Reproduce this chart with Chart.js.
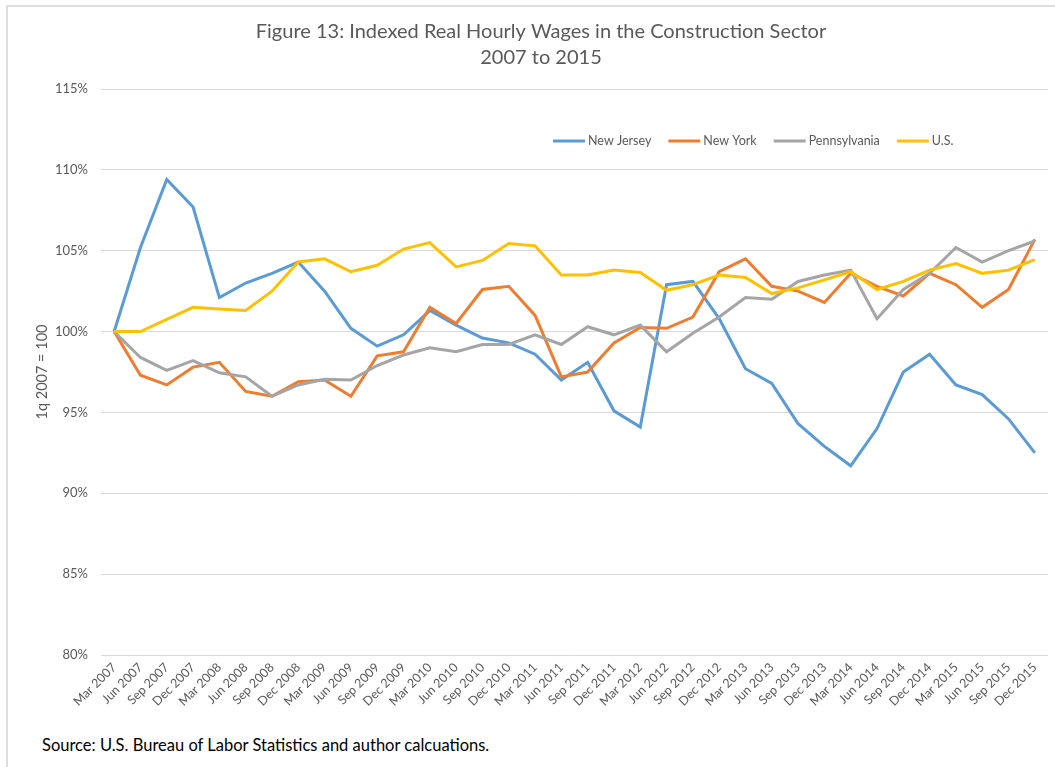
<!DOCTYPE html>
<html>
<head>
<meta charset="utf-8">
<script src="https://cdn.jsdelivr.net/npm/chart.js@4"></script>
<style>
  html, body { margin: 0; padding: 0; background: #fff; }
  #wrap { position: relative; width: 1055px; height: 767px; overflow: hidden; }
  #frame { position: absolute; left: 6px; top: 5px; right: -5px; bottom: -5px;
           border-left: 2px solid #dedede; border-top: 2px solid #dedede; }
  #box { position: absolute; left: 0; top: 0; width: 1055px; height: 730px; }
  #source { position: absolute; left: 42px; top: 735px; font: 16.5px Lato, "Open Sans", sans-serif; color: #000; }
</style>
</head>
<body>
<div id="wrap">
  <div id="frame"></div>
  <div id="box"><canvas id="myChart"></canvas></div>
  <div id="source">Source: U.S. Bureau of Labor Statistics and author calcuations.</div>
</div>
<script>
var quarters = ["Mar 2007","Jun 2007","Sep 2007","Dec 2007","Mar 2008","Jun 2008","Sep 2008","Dec 2008",
  "Mar 2009","Jun 2009","Sep 2009","Dec 2009","Mar 2010","Jun 2010","Sep 2010","Dec 2010",
  "Mar 2011","Jun 2011","Sep 2011","Dec 2011","Mar 2012","Jun 2012","Sep 2012","Dec 2012",
  "Mar 2013","Jun 2013","Sep 2013","Dec 2013","Mar 2014","Jun 2014","Sep 2014","Dec 2014",
  "Mar 2015","Jun 2015","Sep 2015","Dec 2015"];

var newJersey = [100,105.2,109.4,107.7,102.1,103.0,103.6,104.3,102.5,100.2,99.1,99.8,
  101.3,100.4,99.6,99.3,98.6,97.0,98.1,95.1,94.1,102.9,103.1,100.8,
  97.7,96.8,94.3,92.9,91.7,94.0,97.5,98.6,96.7,96.1,94.6,92.5];
var newYork = [100,97.3,96.7,97.8,98.1,96.3,96.0,96.9,97.0,96.0,98.5,98.75,
  101.5,100.5,102.6,102.8,101.0,97.2,97.5,99.3,100.25,100.2,100.9,103.7,
  104.5,102.8,102.5,101.8,103.6,102.8,102.2,103.6,102.9,101.5,102.6,105.7];
var pennsylvania = [100,98.4,97.6,98.2,97.45,97.2,96.0,96.7,97.05,97.0,97.9,98.55,
  99.0,98.75,99.2,99.2,99.8,99.2,100.3,99.8,100.4,98.75,99.9,100.9,
  102.1,102.0,103.1,103.5,103.8,100.8,102.6,103.6,105.2,104.3,105.0,105.6];
var us = [100,100.0,100.75,101.5,101.4,101.3,102.5,104.3,104.5,103.7,104.1,105.1,
  105.5,104.0,104.4,105.45,105.3,103.5,103.5,103.8,103.65,102.55,102.9,103.5,
  103.35,102.35,102.7,103.2,103.7,102.6,103.1,103.8,104.2,103.6,103.8,104.45];

var seriesNames = ["New Jersey", "New York", "Pennsylvania", "U.S."];
var seriesColors = ["#5b9bd5", "#ed7d31", "#a5a5a5", "#ffc000"];
var seriesData = [newJersey, newYork, pennsylvania, us];

var FONT = "Lato, 'Open Sans', sans-serif";
var GREY_TEXT = "#595959";

// legend drawn inside the plot area, like the Excel original
var insideLegend = {
  id: "insideLegend",
  afterDraw: function (chart) {
    var ctx = chart.ctx;
    var x = 553, y = 141;
    ctx.save();
    ctx.font = "12.5px " + FONT;
    ctx.textBaseline = "middle";
    ctx.textAlign = "left";
    chart.data.datasets.forEach(function (ds) {
      ctx.strokeStyle = ds.borderColor;
      ctx.lineWidth = 3;
      ctx.beginPath();
      ctx.moveTo(x, y);
      ctx.lineTo(x + 32, y);
      ctx.stroke();
      ctx.fillStyle = GREY_TEXT;
      ctx.fillText(ds.label, x + 35, y);
      x += 35 + ctx.measureText(ds.label).width + 17;
    });
    ctx.restore();
  }
};

new Chart("myChart", {
  type: "line",
  data: {
    labels: quarters,
    datasets: seriesNames.map(function (name, i) {
      return {
        label: name,
        data: seriesData[i],
        borderColor: seriesColors[i],
        backgroundColor: seriesColors[i],
        borderWidth: 3,
        pointRadius: 0,
        tension: 0,
        order: 4 - i
      };
    })
  },
  options: {
    responsive: true,
    maintainAspectRatio: false,
    animation: false,
    layout: { padding: { left: 34, right: 7, top: 0, bottom: 0 } },
    plugins: {
      legend: { display: false },
      tooltip: { enabled: false },
      title: {
        display: true,
        text: ["Figure 13: Indexed Real Hourly Wages in the Construction Sector", "2007 to 2015"],
        color: GREY_TEXT,
        font: { family: FONT, size: 20, weight: "normal", lineHeight: 1.3 },
        padding: { top: 19, bottom: 18 }
      }
    },
    scales: {
      x: {
        offset: true,
        grid: { display: false, drawTicks: false },
        border: { display: false },
        ticks: {
          autoSkip: false, minRotation: 45, maxRotation: 45, padding: 5,
          color: GREY_TEXT, font: { family: FONT, size: 12.5 }
        },
        afterFit: function (s) { s.height = 75; }
      },
      y: {
        min: 80, max: 115,
        grid: { color: "#d9d9d9", lineWidth: 1, drawTicks: false },
        border: { display: false },
        ticks: {
          stepSize: 5, padding: 13, color: GREY_TEXT,
          font: { family: FONT, size: 13 },
          callback: function (v) { return v + "%"; }
        },
        title: {
          display: true, text: "1q 2007 = 100", color: GREY_TEXT,
          font: { family: FONT, size: 14.5 }, padding: 0
        },
        afterFit: function (s) { s.width = 67; }
      }
    }
  },
  plugins: [insideLegend]
});
</script>
</body>
</html>
